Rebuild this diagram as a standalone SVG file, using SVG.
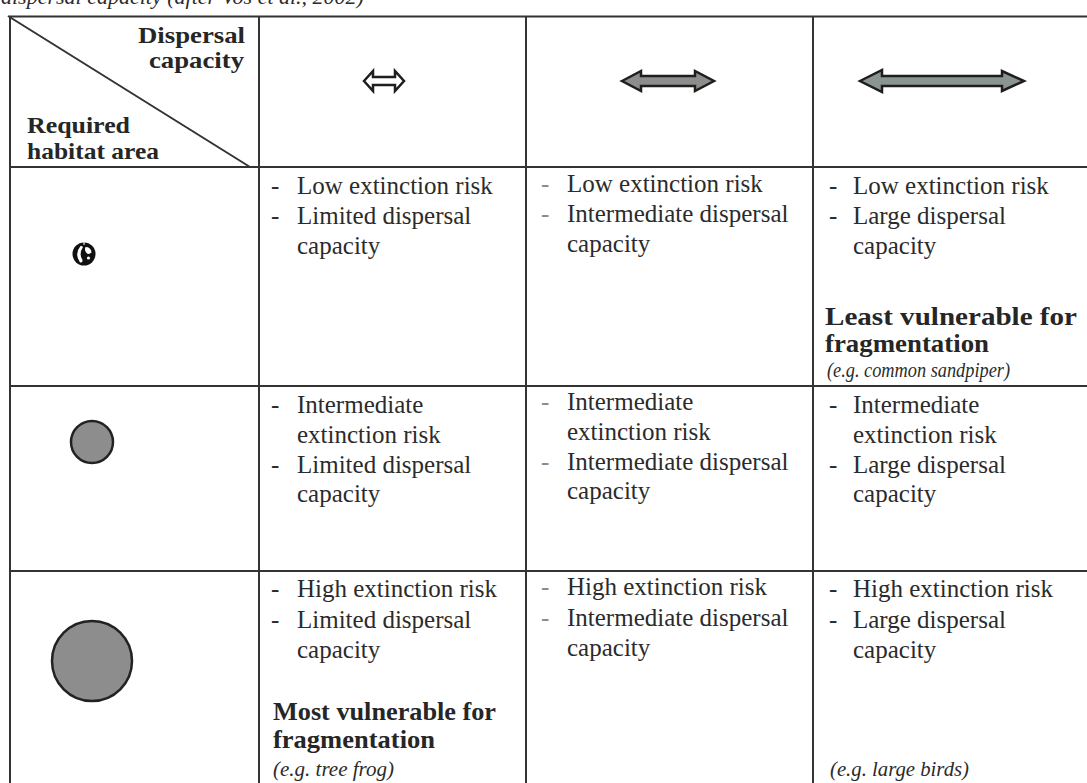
<svg xmlns="http://www.w3.org/2000/svg" width="1087" height="783" viewBox="0 0 1087 783">
  <style>
    .t { font-family: "Liberation Serif", "Times New Roman", serif; font-size: 25px; fill: #2b2b2b; }
    .b { font-weight: bold; font-size: 25px; fill: #262626; }
    .hb { font-weight: bold; font-size: 23px; fill: #262626; }
    .i { font-style: italic; font-size: 20px; }
    .cap { font-style: italic; font-size: 22px; }
    .dl { fill: #8a8a8a; }
    .grid line { stroke: #333; stroke-width: 2; }
    .arrow { stroke: #1e1e1e; stroke-width: 2.5; stroke-linejoin: miter; }
    .disc { fill: #8d8d8d; stroke: #222; stroke-width: 2.5; }
  </style>
  <rect width="1087" height="783" fill="#ffffff"/>

  <!-- caption, clipped by the page top -->
  <text class="t cap" x="1" y="4">dispersal capacity (after Vos et al., 2002)</text>

  <!-- table grid -->
  <g id="grid" class="grid">
    <line x1="9" y1="16.5" x2="1087" y2="16.5"/>
    <line x1="10" y1="16" x2="10" y2="783"/>
    <line x1="259" y1="16" x2="259" y2="783"/>
    <line x1="526" y1="16" x2="526" y2="783"/>
    <line x1="813" y1="16" x2="813" y2="783"/>
    <line x1="10" y1="167" x2="1087" y2="167"/>
    <line x1="10" y1="386" x2="1087" y2="386"/>
    <line x1="10" y1="571" x2="1087" y2="571"/>
    <line x1="8" y1="16" x2="250" y2="167"/>
  </g>

  <!-- corner header -->
  <g id="corner">
    <text class="t hb" x="138" y="43" textLength="107" lengthAdjust="spacingAndGlyphs">Dispersal</text>
    <text class="t hb" x="149" y="68" textLength="95" lengthAdjust="spacingAndGlyphs">capacity</text>
    <text class="t hb" x="27" y="133" textLength="103" lengthAdjust="spacingAndGlyphs">Required</text>
    <text class="t hb" x="27" y="159" textLength="132" lengthAdjust="spacingAndGlyphs">habitat area</text>
  </g>

  <!-- dispersal capacity headers -->
  <g id="dispersal-small">
    <path class="arrow" fill="#ffffff" d="M364 81 L373 71 L373 77 L395 77 L395 71 L404 81 L395 91 L395 85 L373 85 L373 91 Z"/>
  </g>
  <g id="dispersal-medium">
    <path class="arrow" fill="#8c8e8b" d="M622 81 L641 71 L641 76 L695 76 L695 71 L714 81 L695 91 L695 86 L641 86 L641 91 Z"/>
  </g>
  <g id="dispersal-large">
    <path class="arrow" fill="#8b9590" d="M860 81 L882 70 L882 76 L1002 76 L1002 71 L1024 81 L1002 91 L1002 86 L882 86 L882 92 Z"/>
  </g>

  <!-- required habitat area headers -->
  <g id="area-small">
    <circle cx="84" cy="254" r="11.5" fill="#111"/>
    <path d="M80.5 246 Q74 254 80 262.5 Q83 263 82.5 260 Q78.5 254 83 247 Q82 245.5 80.5 246 Z" fill="#fff"/>
    <path d="M85.5 247 Q91 247 91.5 252.5 Q88.5 255 86.5 253 Q84 250 85.5 247 Z" fill="#fff"/>
    <circle cx="88.5" cy="258" r="1.6" fill="#fff"/>
    <line x1="84" y1="242" x2="84" y2="245" stroke="#fff" stroke-width="1"/>
  </g>
  <g id="area-medium">
    <circle class="disc" cx="92" cy="442" r="21"/>
  </g>
  <g id="area-large">
    <circle class="disc" cx="92" cy="661" r="40"/>
  </g>

  <!-- row: small area -->
  <g id="cell-small-limited">
    <text class="t" x="271" y="194">-</text><text class="t" x="297" y="194">Low extinction risk</text>
    <text class="t" x="271" y="224">-</text><text class="t" x="297" y="224">Limited dispersal</text>
    <text class="t" x="297" y="254">capacity</text>
  </g>
  <g id="cell-small-intermediate">
    <text class="t dl" x="541" y="192">-</text><text class="t" x="567" y="192">Low extinction risk</text>
    <text class="t dl" x="541" y="222">-</text><text class="t" x="567" y="222">Intermediate dispersal</text>
    <text class="t" x="567" y="252">capacity</text>
  </g>
  <g id="cell-small-large">
    <text class="t" x="829" y="194">-</text><text class="t" x="853" y="194">Low extinction risk</text>
    <text class="t" x="829" y="224">-</text><text class="t" x="853" y="224">Large dispersal</text>
    <text class="t" x="853" y="254">capacity</text>
    <text class="t b" x="825" y="325" textLength="252" lengthAdjust="spacingAndGlyphs">Least vulnerable for</text>
    <text class="t b" x="825" y="352" textLength="164" lengthAdjust="spacingAndGlyphs">fragmentation</text>
    <text class="t i" x="827" y="377" textLength="183" lengthAdjust="spacingAndGlyphs">(e.g. common sandpiper)</text>
  </g>

  <!-- row: medium area -->
  <g id="cell-medium-limited">
    <text class="t" x="271" y="413">-</text><text class="t" x="297" y="413">Intermediate</text>
    <text class="t" x="297" y="443">extinction risk</text>
    <text class="t" x="271" y="473">-</text><text class="t" x="297" y="473">Limited dispersal</text>
    <text class="t" x="297" y="502">capacity</text>
  </g>
  <g id="cell-medium-intermediate">
    <text class="t dl" x="541" y="410">-</text><text class="t" x="567" y="410">Intermediate</text>
    <text class="t" x="567" y="440">extinction risk</text>
    <text class="t dl" x="541" y="470">-</text><text class="t" x="567" y="470">Intermediate dispersal</text>
    <text class="t" x="567" y="499">capacity</text>
  </g>
  <g id="cell-medium-large">
    <text class="t" x="829" y="413">-</text><text class="t" x="853" y="413">Intermediate</text>
    <text class="t" x="853" y="443">extinction risk</text>
    <text class="t" x="829" y="473">-</text><text class="t" x="853" y="473">Large dispersal</text>
    <text class="t" x="853" y="502">capacity</text>
  </g>

  <!-- row: large area -->
  <g id="cell-large-limited">
    <text class="t" x="271" y="597">-</text><text class="t" x="297" y="597">High extinction risk</text>
    <text class="t" x="271" y="628">-</text><text class="t" x="297" y="628">Limited dispersal</text>
    <text class="t" x="297" y="658">capacity</text>
    <text class="t b" x="273" y="720" textLength="223" lengthAdjust="spacingAndGlyphs">Most vulnerable for</text>
    <text class="t b" x="273" y="748" textLength="162" lengthAdjust="spacingAndGlyphs">fragmentation</text>
    <text class="t i" x="273" y="776" textLength="121" lengthAdjust="spacingAndGlyphs">(e.g. tree frog)</text>
  </g>
  <g id="cell-large-intermediate">
    <text class="t dl" x="541" y="595">-</text><text class="t" x="567" y="595">High extinction risk</text>
    <text class="t dl" x="541" y="626">-</text><text class="t" x="567" y="626">Intermediate dispersal</text>
    <text class="t" x="567" y="656">capacity</text>
  </g>
  <g id="cell-large-large">
    <text class="t" x="829" y="597">-</text><text class="t" x="853" y="597">High extinction risk</text>
    <text class="t" x="829" y="628">-</text><text class="t" x="853" y="628">Large dispersal</text>
    <text class="t" x="853" y="658">capacity</text>
    <text class="t i" x="830" y="776" textLength="139" lengthAdjust="spacingAndGlyphs">(e.g. large birds)</text>
  </g>
</svg>
